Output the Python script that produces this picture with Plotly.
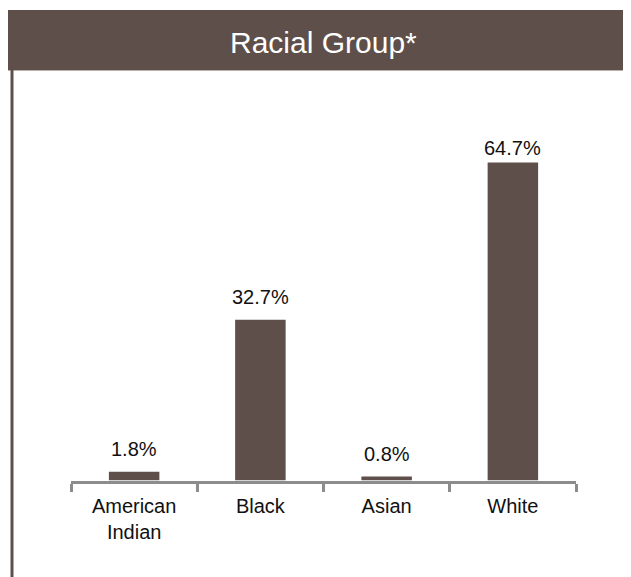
import plotly.graph_objects as go

# Data
categories = ["American<br>Indian", "Black", "Asian", "White"]
values = [1.8, 32.7, 0.8, 64.7]
value_labels = ["1.8%", "32.7%", "0.8%", "64.7%"]
title_text = "Racial Group*"

# the page adds an 8px body margin, so the figure is sized to fill the window
W, H = 623, 569
BROWN = "#5e4f4a"
GRAY = "#8c8c8c"
FONT = "Liberation Sans, Arial, sans-serif"

def px(x):
    return x / W

def py(y):
    return 1 - y / H

# plot area geometry (figure pixels)
x_left, x_right = 63, 568
y_zero, y_top = 472.5, 92
ppu = 4.915  # pixels per data unit
y_max = (y_zero - y_top) / ppu

fig = go.Figure()
fig.add_trace(go.Bar(
    x=categories, y=values,
    marker=dict(color=BROWN, line=dict(width=0)),
    hoverinfo="skip",
))

# value labels above bars (clamped near the top like the original)
gap_units = 15 / ppu
max_label = 66.0
annotations = []
for c, v, t in zip(categories, values, value_labels):
    annotations.append(dict(
        x=c, y=min(v + gap_units, max_label), xref="x", yref="y",
        text=t, showarrow=False, yanchor="bottom", yshift=-5,
        font=dict(family=FONT, size=20, color="#111111"),
    ))

# title
annotations.append(dict(
    x=px(315), y=py(34), xref="paper", yref="paper",
    text=title_text, showarrow=False, xanchor="center", yanchor="middle",
    font=dict(family=FONT, size=30, color="white"),
))

shapes = [
    dict(type="rect", xref="paper", yref="paper",
         x0=px(0), x1=px(W), y0=py(62), y1=py(2),
         fillcolor=BROWN, line=dict(width=0), layer="below"),
    dict(type="line", xref="paper", yref="paper",
         x0=px(0), x1=px(W), y0=py(62.5), y1=py(62.5),
         line=dict(color="#b9b1ad", width=1)),
    dict(type="line", xref="paper", yref="paper",
         x0=px(4), x1=px(4), y0=py(62), y1=py(H),
         line=dict(color=BROWN, width=3)),
]

fig.update_layout(
    width=W, height=H,
    margin=dict(l=0, r=0, t=0, b=0),
    paper_bgcolor="white", plot_bgcolor="white",
    showlegend=False,
    bargap=0.6,
    annotations=annotations,
    shapes=shapes,
    xaxis=dict(
        domain=[px(x_left), px(x_right)],
        showline=True, linecolor=GRAY, linewidth=3,
        ticks="outside", ticklen=8, tickwidth=3, tickcolor=GRAY,
        tickson="boundaries", ticklabelstandoff=5,
        tickfont=dict(family=FONT, size=20, color="#111111"),
        showgrid=False, zeroline=False, fixedrange=True,
    ),
    yaxis=dict(
        domain=[py(y_zero), py(y_top)],
        range=[0, y_max],
        visible=False, showgrid=False, zeroline=False, fixedrange=True,
    ),
)

fig.write_html("out.html", config={"displayModeBar": False})
